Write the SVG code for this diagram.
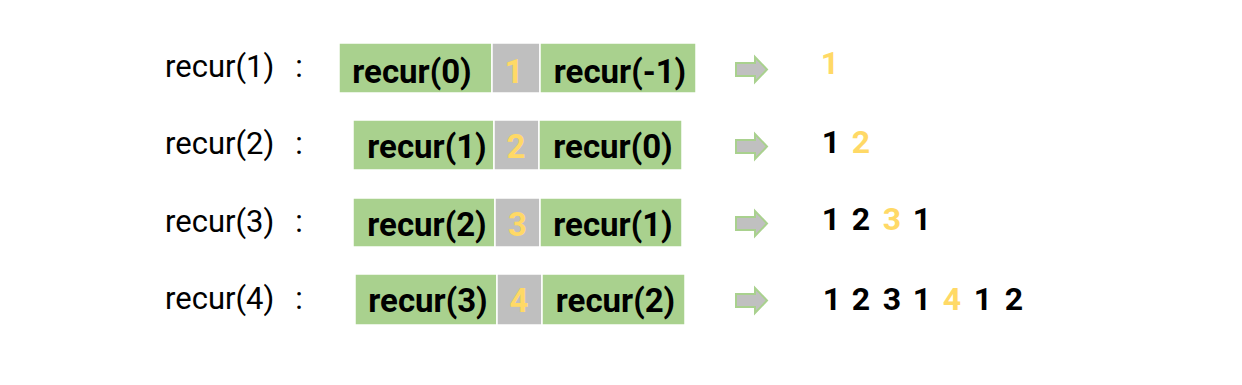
<svg xmlns="http://www.w3.org/2000/svg" width="1242" height="385" viewBox="0 0 1242 385">
<style>
.g{fill:#a9d18e;stroke:#ffffff;stroke-width:1.5}
.k{fill:#bfbfbf;stroke:#ffffff;stroke-width:1.5}
.bt{font-family:Roboto,"Open Sans",sans-serif;font-weight:bold;font-size:33px;fill:#000;text-anchor:middle}
.yt{font-family:Roboto,"Open Sans",sans-serif;font-weight:bold;font-size:33px;fill:#ffd966;text-anchor:middle}
.lb{font-family:Roboto,"Open Sans",sans-serif;font-size:31px;fill:#000}
.cl{font-family:Roboto,"Open Sans",sans-serif;font-size:31px;fill:#000;text-anchor:middle}
.r{font-family:Roboto,"Open Sans",sans-serif;font-weight:bold;font-size:32px;fill:#000;text-anchor:middle}
.ry{fill:#ffd966}
.ar{fill:#c0c0c0;stroke:#a9d18e;stroke-width:2}
</style>
<defs>
<path id="arrow" class="ar" d="M0,6 H19 V0 L31,12.5 L19,25 V19 H0 Z"/>
</defs>
<g id="row1">
<text class="lb" x="165" y="77">recur(1)</text><text class="cl" x="299" y="77">:</text>
<rect class="g" x="339" y="43" width="153" height="50"/>
<rect class="k" x="492" y="43" width="48" height="50"/>
<rect class="g" x="540" y="43" width="156" height="50"/>
<text class="bt" x="412" y="83">recur(0)</text>
<text class="yt" x="514" y="83">1</text>
<text class="bt" x="620" y="83">recur(-1)</text>
</g>
<g id="row2">
<text class="lb" x="165" y="154">recur(2)</text><text class="cl" x="299" y="154">:</text>
<rect class="g" x="353" y="120" width="141" height="50"/>
<rect class="k" x="494" y="120" width="45" height="50"/>
<rect class="g" x="539" y="120" width="143" height="50"/>
<text class="bt" x="427" y="158">recur(1)</text>
<text class="yt" x="516" y="158">2</text>
<text class="bt" x="613" y="158">recur(0)</text>
</g>
<g id="row3">
<text class="lb" x="165" y="232">recur(3)</text><text class="cl" x="299" y="232">:</text>
<rect class="g" x="353" y="198" width="142" height="49"/>
<rect class="k" x="495" y="198" width="45" height="49"/>
<rect class="g" x="540" y="198" width="142" height="49"/>
<text class="bt" x="427" y="236">recur(2)</text>
<text class="yt" x="517.5" y="236">3</text>
<text class="bt" x="613" y="236">recur(1)</text>
</g>
<g id="row4">
<text class="lb" x="165" y="309">recur(4)</text><text class="cl" x="299" y="309">:</text>
<rect class="g" x="355" y="274" width="142" height="51"/>
<rect class="k" x="497" y="274" width="45" height="51"/>
<rect class="g" x="542" y="274" width="143" height="51"/>
<text class="bt" x="428" y="312">recur(3)</text>
<text class="yt" x="519" y="312">4</text>
<text class="bt" x="615.5" y="312">recur(2)</text>
</g>
<g id="connectors">
<use href="#arrow" x="736" y="57"/>
<use href="#arrow" x="736" y="134"/>
<use href="#arrow" x="736" y="211"/>
<use href="#arrow" x="736" y="288"/>
</g>
<g id="results">
<text class="r ry" x="830" y="74">1</text>
<text class="r" x="831" y="153">1</text><text class="r ry" x="861" y="153">2</text>
<text class="r" x="831" y="230">1</text><text class="r" x="861" y="230">2</text><text class="r ry" x="892" y="230">3</text><text class="r" x="922" y="230">1</text>
<text class="r" x="832" y="310">1</text><text class="r" x="861" y="310">2</text><text class="r" x="892" y="310">3</text><text class="r" x="922" y="310">1</text><text class="r ry" x="952" y="310">4</text><text class="r" x="983" y="310">1</text><text class="r" x="1014" y="310">2</text>
</g>
</svg>
